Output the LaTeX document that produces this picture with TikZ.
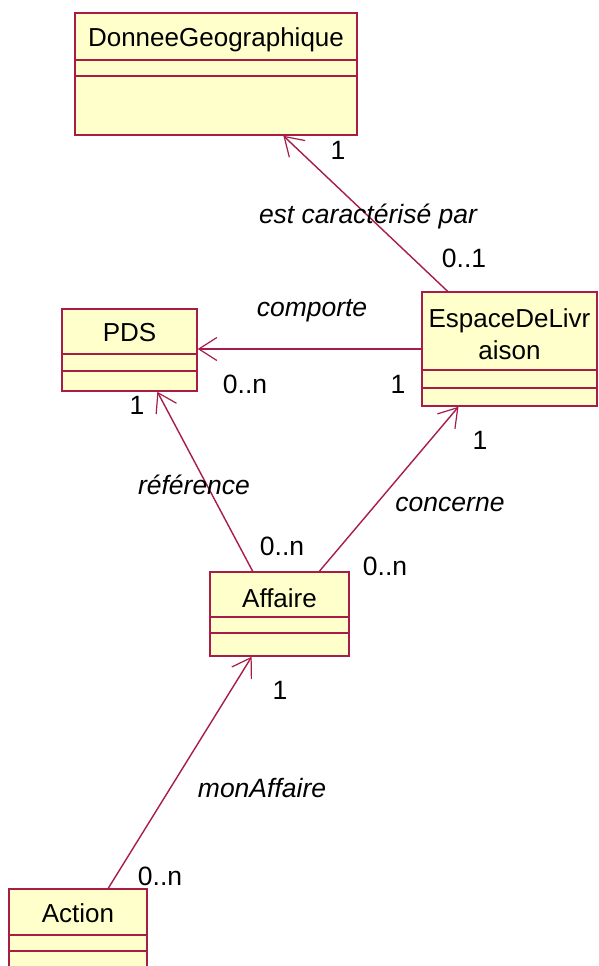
\documentclass[tikz,border=0pt]{standalone}
\usepackage{fontspec}
\setmainfont{Liberation Sans}
\usetikzlibrary{arrows.meta,calc}
\definecolor{umlred}{RGB}{168,28,72}
\definecolor{umlfill}{RGB}{255,255,204}
\tikzset{
  cls/.style={draw=umlred, fill=umlfill, line width=1.5pt, rectangle, inner sep=0pt},
  divider/.style={draw=umlred, line width=1.5pt},
  cname/.style={font=\fontsize{26}{32}\selectfont, inner sep=0pt, align=center},
  lbl/.style={font=\fontsize{26.5}{30}\selectfont\itshape, inner sep=0pt},
  mult/.style={font=\fontsize{26.5}{30}\selectfont, inner sep=0pt},
  assoc/.style={draw=umlred, line width=1.4pt, -{Straight Barb[length=18pt,width=23pt,line width=1.2pt]}}
}
\begin{document}
\begin{tikzpicture}[x=1pt,y=-1pt]
\useasboundingbox (0,0) rectangle (598,966);
\clip (0,0) rectangle (598,966);
\fill[white] (0,0) rectangle (598,966);

% classes
\node[cls, minimum width=282pt, minimum height=122pt] (dg) at (216,74) {};
\draw[divider] (dg.west |- 0,60) -- (dg.east |- 0,60);
\draw[divider] (dg.west |- 0,76) -- (dg.east |- 0,76);
\node[cname] (dgn) at (216,40) {DonneeGeographique};

\node[cls, minimum width=135pt, minimum height=82pt] (pds) at (129.5,350) {};
\draw[divider] (pds.west |- 0,354) -- (pds.east |- 0,354);
\draw[divider] (pds.west |- 0,371) -- (pds.east |- 0,371);
\node[cname] (pdsn) at (129.5,333) {PDS};

\node[cls, minimum width=175pt, minimum height=114pt] (els) at (509.5,349) {};
\draw[divider] (els.west |- 0,370) -- (els.east |- 0,370);
\draw[divider] (els.west |- 0,388) -- (els.east |- 0,388);
\node[cname] (elsn) at (509.5,334) {EspaceDeLivr\\aison};

\node[cls, minimum width=139pt, minimum height=84pt] (af) at (279.5,614) {};
\draw[divider] (af.west |- 0,617) -- (af.east |- 0,617);
\draw[divider] (af.west |- 0,633) -- (af.east |- 0,633);
\node[cname] (afn) at (279.5,598) {Affaire};

\node[cls, minimum width=138pt, minimum height=120pt] (ac) at (78,949) {};
\draw[divider] (ac.west |- 0,935) -- (ac.east |- 0,935);
\draw[divider] (ac.west |- 0,951) -- (ac.east |- 0,951);
\node[cname] (acn) at (78,913) {Action};

% associations
\draw[assoc] ($(els.north west)!0.149!(els.north east)$) -- ($(dg.south west)!0.7376!(dg.south east)$);
\draw[assoc] (els.west) -- (pds.east |- els.west);
\draw[assoc] ($(af.north west)!0.309!(af.north east)$) -- ($(pds.south west)!0.704!(pds.south east)$);
\draw[assoc] ($(af.north west)!0.784!(af.north east)$) -- ($(els.south west)!0.211!(els.south east)$);
\draw[assoc] ($(ac.north west)!0.717!(ac.north east)$) -- ($(af.south west)!0.302!(af.south east)$);

% labels
\node[mult] (m1) at (338,150) {1};
\node[lbl] (l1) at (368,216) {est caractérisé par};
\node[mult] (m2) at (464,258) {0..1};

\node[lbl] (l2) at (312,311) {comporte};
\node[mult] (m3) at (245,384) {0..n};
\node[mult] (m4) at (398,384) {1};

\node[mult] (m5) at (137,405) {1};
\node[lbl] (l3) at (194,485) {référence};
\node[mult] (m6) at (282,546) {0..n};

\node[mult] (m7) at (480,440) {1};
\node[lbl] (l4) at (450,504) {concerne};
\node[mult] (m8) at (385,566) {0..n};

\node[mult] (m9) at (280,690) {1};
\node[lbl] (l5) at (262,788) {monAffaire};
\node[mult] (m10) at (160,876) {0..n};
\end{tikzpicture}
\end{document}
